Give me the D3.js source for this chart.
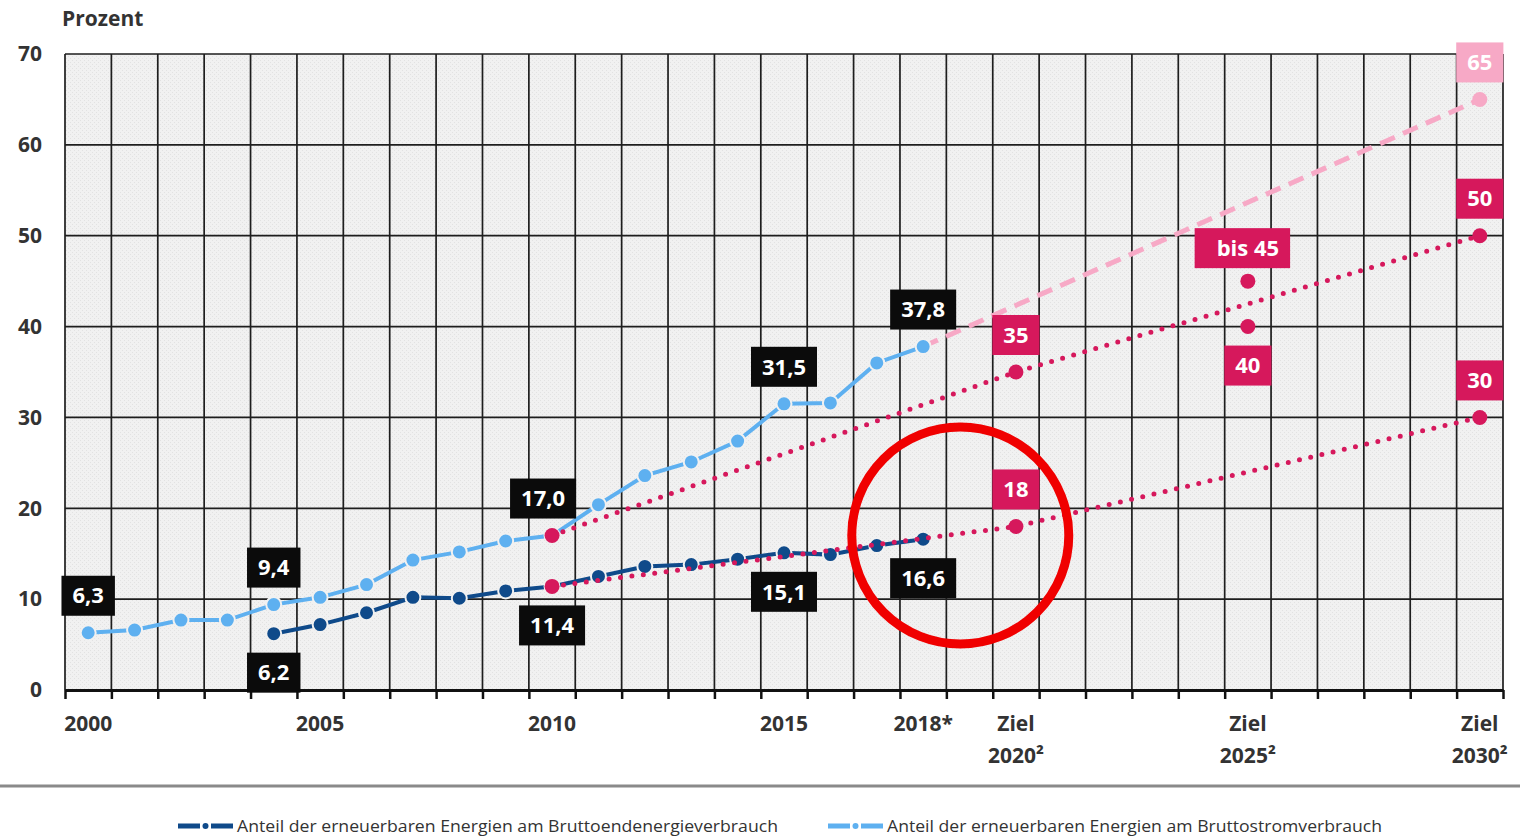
<!DOCTYPE html>
<html lang="de">
<head>
<meta charset="utf-8">
<script src="https://cdn.jsdelivr.net/npm/d3@7"></script>
<style>
  html, body { margin: 0; padding: 0; background: #fff; }
  svg { display: block; font-family: "Open Sans", "Liberation Sans", sans-serif; }
</style>
</head>
<body>
<svg id="chart" width="1520" height="837"></svg>
<script>
// Anteil erneuerbarer Energien (Prozent), Ist-Werte und Ziele

const stromYears  = [2000, 2001, 2002, 2003, 2004, 2005, 2006, 2007, 2008, 2009,
                     2010, 2011, 2012, 2013, 2014, 2015, 2016, 2017, 2018];
const stromValues = [6.3, 6.6, 7.7, 7.7, 9.4, 10.2, 11.6, 14.3, 15.2, 16.4,
                     17.0, 20.4, 23.6, 25.1, 27.4, 31.5, 31.6, 36.0, 37.8];

const endYears  = [2004, 2005, 2006, 2007, 2008, 2009, 2010, 2011, 2012,
                   2013, 2014, 2015, 2016, 2017, 2018];
const endValues = [6.2, 7.2, 8.5, 10.2, 10.1, 10.9, 11.4, 12.5, 13.6,
                   13.8, 14.4, 15.1, 14.9, 15.9, 16.6];

// target paths (dotted / dashed)
const stromTargetYears  = [2010, 2020, 2030];
const stromTargetValues = [17.0, 35, 50];
const endTargetYears    = [2010, 2020, 2030];
const endTargetValues   = [11.4, 18, 30];
const newTargetYears    = [2018, 2030];
const newTargetValues   = [37.8, 65];

// 2025 corridor
const corridorYear   = 2025;
const corridorValues = [45, 40];
const corridorTexts  = ['bis 45', '40'];

const stromLabelYears = [2000, 2004, 2010, 2015, 2018];
const endLabelYears   = [2004, 2010, 2015, 2018];

const yTicks = [0, 10, 20, 30, 40, 50, 60, 70];
const xTickLabels = [
  { year: 2000, lines: ['2000'] },
  { year: 2005, lines: ['2005'] },
  { year: 2010, lines: ['2010'] },
  { year: 2015, lines: ['2015'] },
  { year: 2018, lines: ['2018*'] },
  { year: 2020, lines: ['Ziel', '2020²'] },
  { year: 2025, lines: ['Ziel', '2025²'] },
  { year: 2030, lines: ['Ziel', '2030²'] },
];

const legendLabels = [
  'Anteil der erneuerbaren Energien am Bruttoendenergieverbrauch',
  'Anteil der erneuerbaren Energien am Bruttostromverbrauch',
];

const highlight = { year: 2018.8, value: 17 };

/* ------------------------------------------------------------------ */

const C = {
  dark: '#0f4a8a',
  light: '#5eb0f0',
  crimson: '#d6185c',
  pink: '#f7a9c6',
  grid: '#1e1e1e',
  text: '#333',
};

const fmt = d3.formatLocale({ decimal: ',', thousands: '.', grouping: [3], currency: ['', ' €'] }).format('.1f');

const svg = d3.select('#chart');
const x = d3.scaleLinear().domain([1999.5, 2030.5]).range([65, 1503]);
const y = d3.scaleLinear().domain([0, 70]).range([690, 54]);

// hatch texture for plot background
const defs = svg.append('defs');
const pat = defs.append('pattern')
  .attr('id', 'hatch').attr('width', 4).attr('height', 4)
  .attr('patternUnits', 'userSpaceOnUse');
pat.append('rect').attr('width', 4).attr('height', 4).attr('fill', '#f1f1f1');
pat.append('rect').attr('width', 1).attr('height', 1).attr('fill', '#e2e2e2');
pat.append('rect').attr('x', 2).attr('y', 2).attr('width', 1).attr('height', 1).attr('fill', '#e2e2e2');

svg.append('rect')
  .attr('x', x.range()[0]).attr('y', y(70))
  .attr('width', x.range()[1] - x.range()[0]).attr('height', y(0) - y(70))
  .attr('fill', 'url(#hatch)');

// grid
const bounds = d3.range(x.domain()[0], x.domain()[1] + 0.01, 1);
svg.append('g').selectAll('line').data(bounds).join('line')
  .attr('x1', d => x(d)).attr('x2', d => x(d))
  .attr('y1', y(70)).attr('y2', y(0))
  .attr('stroke', C.grid).attr('stroke-width', 1.7);
svg.append('g').selectAll('line').data(yTicks).join('line')
  .attr('x1', x.range()[0]).attr('x2', x.range()[1])
  .attr('y1', d => y(d)).attr('y2', d => y(d))
  .attr('stroke', C.grid).attr('stroke-width', 1.7);

// bottom axis with ticks on band boundaries
const xAxis = svg.append('g')
  .attr('transform', `translate(0,${y(0)})`)
  .call(d3.axisBottom(x).tickValues(bounds).tickFormat('').tickSize(9).tickSizeOuter(0));
xAxis.select('.domain').attr('stroke', '#111').attr('stroke-width', 3);
xAxis.selectAll('.tick line').attr('stroke', '#111').attr('stroke-width', 2.5);

// y labels
const yAxis = svg.append('g')
  .attr('transform', `translate(${x.range()[0]},0)`)
  .call(d3.axisLeft(y).tickValues(yTicks).tickSize(0).tickPadding(23));
yAxis.select('.domain').remove();
yAxis.selectAll('text')
  .attr('font-family', '"Open Sans", "Liberation Sans", sans-serif')
  .attr('font-size', 21).attr('font-weight', 700).attr('fill', C.text);

svg.append('text')
  .attr('x', 62).attr('y', 26)
  .attr('font-size', 21).attr('font-weight', 700).attr('fill', C.text)
  .text('Prozent');

// x labels
const xl = svg.append('g').selectAll('text').data(xTickLabels).join('text')
  .attr('text-anchor', 'middle')
  .attr('font-size', 21).attr('font-weight', 700).attr('fill', C.text);
xl.selectAll('tspan').data(d => d.lines.map(l => ({ l, year: d.year }))).join('tspan')
  .attr('x', d => x(d.year))
  .attr('y', (d, i) => 731 + i * 32)
  .text(d => d.l);

/* ------------------------------------------------------------------ */

const line = d3.line().x(d => x(d[0])).y(d => y(d[1]));
const zip = (a, b) => a.map((v, i) => [v, b[i]]);

const stromPts = zip(stromYears, stromValues);
const endPts = zip(endYears, endValues);

// new 2030 target (65 %)
svg.append('path').datum(zip(newTargetYears, newTargetValues))
  .attr('d', line).attr('fill', 'none')
  .attr('stroke', C.pink).attr('stroke-width', 5)
  .attr('stroke-dasharray', '16 9');

function drawSeries(pts, color) {
  svg.append('path').datum(pts)
    .attr('d', line).attr('fill', 'none')
    .attr('stroke', color).attr('stroke-width', 4);
  svg.append('g').selectAll('circle').data(pts).join('circle')
    .attr('cx', d => x(d[0])).attr('cy', d => y(d[1]))
    .attr('r', 7.5).attr('fill', color)
    .attr('stroke', '#f1f1f1').attr('stroke-width', 2);
}
drawSeries(stromPts, C.light);
drawSeries(endPts, C.dark);

// dotted target paths
for (const pts of [zip(stromTargetYears, stromTargetValues), zip(endTargetYears, endTargetValues)]) {
  svg.append('path').datum(pts)
    .attr('d', line).attr('fill', 'none')
    .attr('stroke', C.crimson).attr('stroke-width', 5)
    .attr('stroke-linecap', 'round')
    .attr('stroke-dasharray', '0 11.5');
  svg.append('g').selectAll('circle').data(pts).join('circle')
    .attr('cx', d => x(d[0])).attr('cy', d => y(d[1]))
    .attr('r', 7.5).attr('fill', C.crimson);
}
svg.append('g').selectAll('circle').data(corridorValues).join('circle')
  .attr('cx', x(corridorYear)).attr('cy', d => y(d))
  .attr('r', 7.5).attr('fill', C.crimson);
svg.append('circle')
  .attr('cx', x(newTargetYears[1])).attr('cy', y(newTargetValues[1]))
  .attr('r', 7.5).attr('fill', C.pink);

/* ------------------------------------------------------------------ */
/*  Value boxes                                                        */
/* ------------------------------------------------------------------ */

const boxes = svg.append('g');
function valueBox(year, value, text, fill, side, opts = {}) {
  const dx = opts.dx || 0;
  const padL = opts.padL || 11;
  const cx = x(year) + dx;
  const cy = y(value) + (side === 'above' ? -37 : 39) + (opts.dy || 0);
  const g = boxes.append('g');
  const r = g.append('rect').attr('fill', fill);
  const t = g.append('text')
    .attr('x', cx).attr('y', cy).attr('dy', '0.35em')
    .attr('text-anchor', 'middle')
    .attr('font-size', 22).attr('font-weight', 700).attr('fill', '#fff')
    .text(text);
  const tw = t.node().getComputedTextLength();
  r.attr('x', cx - tw / 2 - padL).attr('y', cy - 20)
    .attr('width', tw + padL + 11).attr('height', 40);
}

stromLabelYears.forEach(yr => {
  const v = stromValues[stromYears.indexOf(yr)];
  valueBox(yr, v, fmt(v), '#0b0b0b', 'above', yr === 2010 ? { dx: -9 } : {});
});
endLabelYears.forEach(yr => {
  const v = endValues[endYears.indexOf(yr)];
  valueBox(yr, v, fmt(v), '#0b0b0b', 'below');
});
[[stromTargetYears, stromTargetValues], [endTargetYears, endTargetValues]].forEach(([ys, vs]) => {
  ys.forEach((yr, i) => { if (yr > 2018) valueBox(yr, vs[i], String(vs[i]), C.crimson, 'above'); });
});
valueBox(corridorYear, corridorValues[0], corridorTexts[0], C.crimson, 'above', { padL: 22, dy: 4 });
valueBox(corridorYear, corridorValues[1], corridorTexts[1], C.crimson, 'below');
valueBox(newTargetYears[1], newTargetValues[1], String(newTargetValues[1]), C.pink, 'above');

// red highlight ring
svg.append('circle')
  .attr('cx', x(highlight.year)).attr('cy', y(highlight.value))
  .attr('r', 108.5).attr('fill', 'none')
  .attr('stroke', '#f00000').attr('stroke-width', 9);

/* ------------------------------------------------------------------ */
/*  Rule + legend                                                      */
/* ------------------------------------------------------------------ */

svg.append('line')
  .attr('x1', 0).attr('x2', 1520).attr('y1', 786).attr('y2', 786)
  .attr('stroke', '#8a8a8a').attr('stroke-width', 3);

const legendX = [178, 828];
const legendW = [541, 495];
const legendColors = [C.dark, C.light];
legendLabels.forEach((label, i) => {
  const g = svg.append('g').attr('transform', `translate(${legendX[i]},826)`);
  g.append('rect').attr('x', 0).attr('y', -2.5).attr('width', 22).attr('height', 5).attr('fill', legendColors[i]);
  g.append('circle').attr('cx', 27.5).attr('cy', 0).attr('r', 3).attr('fill', legendColors[i]);
  g.append('rect').attr('x', 33).attr('y', -2.5).attr('width', 22).attr('height', 5).attr('fill', legendColors[i]);
  g.append('text')
    .attr('x', 59).attr('dy', '0.35em')
    .attr('font-size', 17).attr('fill', C.text)
    .attr('textLength', legendW[i]).attr('lengthAdjust', 'spacingAndGlyphs')
    .text(label);
});
</script>
</body>
</html>
